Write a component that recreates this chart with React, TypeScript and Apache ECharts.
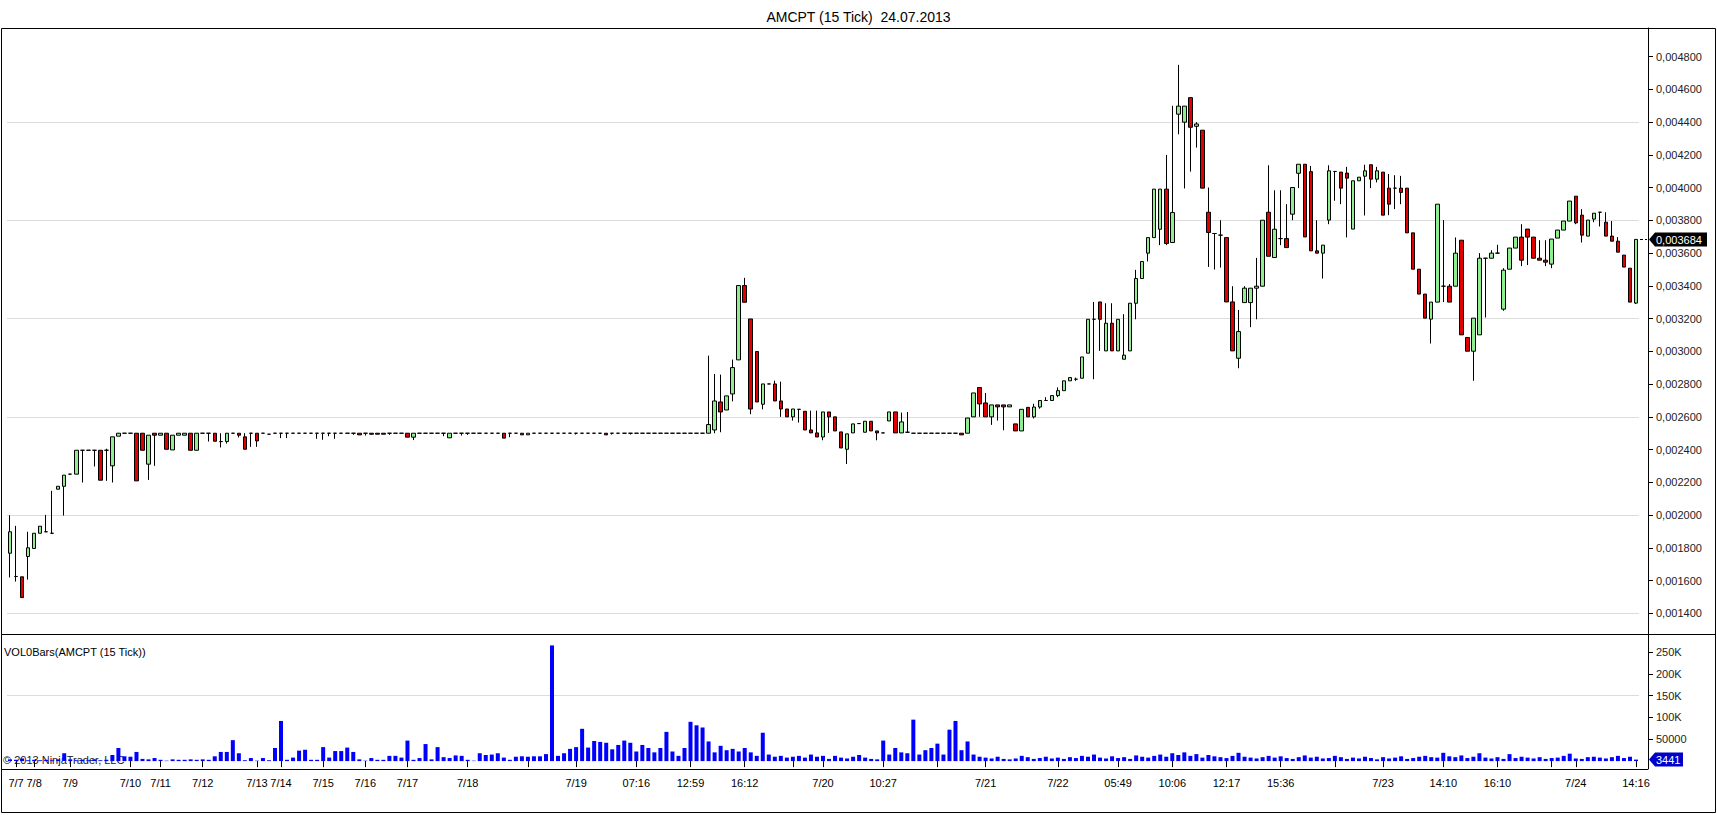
import React, { useEffect, useRef } from 'react';
import * as echarts from 'echarts';

const TITLE = 'AMCPT (15 Tick)  24.07.2013';
const VOL_TITLE = 'VOL0Bars(AMCPT (15 Tick))';
const COPYRIGHT = '\u00a9 2013 NinjaTrader, LLC';

// prices in millionths (value * 1e-6)
const PRICE_UNIT = 1e-6;

const opens = [
  1767, 1625, 1623, 1747, 1796, 1889, 1898, 1889, 2158, 2176,
  2250, 2250, 2396, 2396, 2396, 2396, 2396, 2301, 2482, 2500,
  2500, 2500, 2500, 2311, 2500, 2488, 2500, 2398, 2488, 2488,
  2500, 2396, 2500, 2500, 2500, 2449, 2449, 2500, 2500, 2478,
  2500, 2500, 2500, 2494, 2500, 2500, 2500, 2500, 2500, 2500,
  2500, 2500, 2500, 2500, 2500, 2500, 2500, 2500, 2500, 2500,
  2500, 2500, 2500, 2500, 2500, 2500, 2500, 2476, 2500, 2500,
  2500, 2500, 2500, 2472, 2500, 2500, 2500, 2500, 2500, 2500,
  2500, 2500, 2500, 2500, 2500, 2500, 2490, 2500, 2500, 2500,
  2500, 2500, 2500, 2500, 2500, 2500, 2500, 2500, 2500, 2500,
  2500, 2500, 2500, 2500, 2500, 2500, 2500, 2500, 2500, 2500,
  2500, 2500, 2500, 2500, 2500, 2500, 2500, 2520, 2691, 2642,
  2740, 2948, 3402, 3198, 2999, 2677, 2801, 2801, 2697, 2648,
  2600, 2646, 2634, 2520, 2502, 2477, 2630, 2600, 2508, 2402,
  2502, 2559, 2506, 2573, 2514, 2502, 2575, 2630, 2502, 2506,
  2500, 2500, 2500, 2500, 2500, 2500, 2500, 2500, 2500, 2500,
  2600, 2779, 2685, 2600, 2673, 2673, 2661, 2557, 2514, 2658,
  2600, 2660, 2700, 2700, 2730, 2760, 2820, 2830, 2836, 2989,
  3196, 3302, 3003, 3172, 3003, 2952, 3003, 3294, 3445, 3600,
  3695, 3746, 3991, 3665, 4449, 4400, 4550, 4375, 4351, 3850,
  3720, 3710, 3695, 3302, 2958, 3298, 3298, 3386, 3398, 3850,
  3573, 3689, 3689, 3838, 4088, 4143, 4098, 3614, 3600, 3802,
  4099, 4095, 4089, 3747, 4042, 4070, 4140, 4052, 4095, 3997,
  3997, 3997, 3997, 3724, 3502, 3350, 3197, 3301, 3398, 3398,
  3398, 3679, 3085, 3001, 3101, 3569, 3569, 3600, 3258, 3502,
  3631, 3698, 3747, 3698, 3569, 3557, 3533, 3692, 3741, 3796,
  3948, 3832, 3704, 3808, 3850, 3789, 3704, 3673, 3588, 3508, 3295,
];

const closes = [
  1898, 1625, 1496, 1800, 1889, 1932, 1898, 1889, 2176, 2244,
  2250, 2396, 2396, 2396, 2396, 2213, 2396, 2478, 2500, 2500,
  2500, 2209, 2396, 2488, 2488, 2500, 2402, 2488, 2500, 2500,
  2396, 2500, 2500, 2500, 2451, 2449, 2500, 2500, 2488, 2402,
  2500, 2453, 2500, 2494, 2500, 2500, 2500, 2500, 2500, 2500,
  2500, 2500, 2500, 2500, 2500, 2500, 2500, 2500, 2490, 2500,
  2494, 2494, 2494, 2500, 2500, 2500, 2476, 2500, 2500, 2500,
  2500, 2500, 2500, 2500, 2500, 2500, 2500, 2500, 2500, 2500,
  2500, 2500, 2470, 2500, 2500, 2490, 2500, 2500, 2500, 2500,
  2500, 2500, 2500, 2500, 2500, 2500, 2500, 2500, 2500, 2490,
  2500, 2500, 2500, 2500, 2500, 2500, 2500, 2500, 2500, 2500,
  2500, 2500, 2500, 2500, 2500, 2500, 2553, 2697, 2630, 2728,
  2901, 3402, 3300, 2648, 2691, 2801, 2801, 2697, 2648, 2600,
  2648, 2646, 2520, 2502, 2477, 2630, 2600, 2514, 2410, 2496,
  2557, 2559, 2573, 2514, 2502, 2502, 2630, 2502, 2569, 2506,
  2500, 2500, 2500, 2500, 2500, 2500, 2500, 2500, 2490, 2593,
  2746, 2679, 2600, 2673, 2661, 2661, 2673, 2514, 2646, 2600,
  2660, 2700, 2700, 2730, 2760, 2820, 2840, 2830, 2966, 3196,
  3196, 3196, 3172, 3003, 3196, 2977, 3294, 3445, 3549, 3695,
  3991, 3991, 3659, 3848, 4498, 4498, 4369, 4389, 3997, 3726,
  3720, 3710, 3302, 3003, 3121, 3386, 3386, 3398, 3801, 3581,
  3746, 3689, 3634, 4001, 4143, 3699, 3614, 3600, 3649, 4103,
  4099, 3997, 4058, 4042, 4064, 4103, 4052, 4103, 3832, 3899,
  3997, 3971, 3724, 3502, 3350, 3203, 3301, 3899, 3398, 3301,
  3600, 3101, 3001, 3203, 3569, 3569, 3600, 3600, 3496, 3631,
  3698, 3557, 3698, 3569, 3557, 3545, 3686, 3741, 3796, 3918,
  3785, 3710, 3802, 3844, 3850, 3704, 3673, 3606, 3515, 3301, 3684,
];

const lows = [
  1619, 1594, 1496, 1606, 1796, 1889, 1898, 1889, 2158, 1997,
  2250, 2250, 2199, 2396, 2297, 2213, 2209, 2199, 2482, 2500,
  2500, 2209, 2396, 2215, 2301, 2488, 2402, 2398, 2488, 2488,
  2396, 2396, 2500, 2449, 2451, 2413, 2437, 2500, 2474, 2402,
  2417, 2417, 2500, 2494, 2500, 2470, 2470, 2500, 2500, 2500,
  2500, 2466, 2460, 2482, 2466, 2500, 2500, 2490, 2490, 2486,
  2490, 2494, 2494, 2490, 2500, 2500, 2476, 2458, 2500, 2500,
  2500, 2500, 2482, 2472, 2500, 2486, 2490, 2500, 2500, 2500,
  2500, 2500, 2470, 2476, 2500, 2490, 2490, 2500, 2500, 2500,
  2500, 2500, 2500, 2500, 2492, 2500, 2500, 2500, 2500, 2490,
  2492, 2500, 2500, 2492, 2500, 2500, 2500, 2500, 2500, 2500,
  2500, 2500, 2500, 2500, 2500, 2500, 2500, 2500, 2506, 2642,
  2695, 2948, 3300, 2616, 2691, 2646, 2801, 2697, 2600, 2600,
  2577, 2565, 2520, 2502, 2477, 2457, 2502, 2514, 2410, 2312,
  2502, 2559, 2506, 2514, 2457, 2502, 2575, 2502, 2502, 2506,
  2500, 2500, 2500, 2500, 2500, 2500, 2500, 2500, 2490, 2500,
  2600, 2600, 2600, 2551, 2577, 2518, 2661, 2514, 2514, 2600,
  2590, 2650, 2700, 2700, 2720, 2760, 2820, 2820, 2836, 2989,
  2830, 3003, 3003, 3003, 3003, 2952, 3003, 3196, 3445, 3549,
  3695, 3649, 3649, 3665, 4326, 3995, 4098, 4245, 3997, 3516,
  3500, 3512, 3302, 3003, 2897, 3298, 3148, 3196, 3398, 3581,
  3573, 3649, 3634, 3801, 3997, 3699, 3614, 3600, 3445, 3777,
  3920, 3899, 3696, 3747, 4042, 3830, 3997, 4032, 3832, 3832,
  3869, 3899, 3724, 3502, 3350, 3203, 3048, 3301, 3301, 3301,
  3398, 3101, 3001, 2820, 3101, 3207, 3569, 3600, 3248, 3502,
  3631, 3521, 3527, 3569, 3557, 3521, 3508, 3692, 3741, 3796,
  3777, 3665, 3704, 3789, 3763, 3704, 3673, 3606, 3515, 3301, 3289,
];

const highs = [
  1999, 1934, 1623, 1898, 1889, 1932, 2001, 2148, 2176, 2244,
  2250, 2396, 2396, 2396, 2396, 2396, 2405, 2478, 2500, 2500,
  2500, 2500, 2500, 2488, 2500, 2500, 2500, 2488, 2500, 2500,
  2500, 2500, 2500, 2500, 2500, 2500, 2500, 2500, 2500, 2500,
  2500, 2500, 2500, 2494, 2500, 2500, 2500, 2500, 2500, 2500,
  2500, 2500, 2500, 2500, 2500, 2500, 2500, 2500, 2500, 2500,
  2500, 2500, 2500, 2500, 2500, 2500, 2500, 2500, 2500, 2500,
  2500, 2500, 2500, 2500, 2500, 2500, 2500, 2500, 2500, 2500,
  2500, 2500, 2500, 2500, 2500, 2500, 2500, 2500, 2500, 2500,
  2500, 2500, 2500, 2500, 2500, 2500, 2500, 2500, 2500, 2500,
  2500, 2500, 2500, 2500, 2500, 2500, 2500, 2500, 2500, 2500,
  2500, 2500, 2500, 2500, 2500, 2500, 2974, 2862, 2858, 2728,
  2950, 3402, 3449, 3198, 2999, 2801, 2801, 2821, 2815, 2648,
  2648, 2646, 2634, 2638, 2638, 2630, 2630, 2600, 2508, 2496,
  2557, 2559, 2573, 2573, 2514, 2502, 2630, 2630, 2626, 2630,
  2500, 2500, 2500, 2500, 2500, 2500, 2500, 2500, 2500, 2593,
  2746, 2779, 2746, 2673, 2673, 2673, 2673, 2557, 2646, 2658,
  2680, 2700, 2720, 2730, 2780, 2820, 2840, 2840, 2966, 3196,
  3302, 3302, 3294, 3294, 3196, 3227, 3294, 3498, 3549, 3695,
  3991, 3991, 4200, 4500, 4750, 4498, 4550, 4400, 4351, 4001,
  3720, 3801, 3695, 3398, 3253, 3398, 3386, 3571, 3801, 4137,
  3984, 3984, 3899, 4001, 4143, 4143, 4133, 3801, 3649, 4137,
  4099, 4095, 4127, 4042, 4064, 4140, 4140, 4127, 4095, 4083,
  4076, 4072, 3997, 3724, 3502, 3350, 3301, 3899, 3802, 3411,
  3696, 3679, 3085, 3203, 3600, 3569, 3618, 3651, 3508, 3631,
  3698, 3777, 3747, 3698, 3679, 3679, 3686, 3741, 3796, 3918,
  3948, 3869, 3802, 3844, 3850, 3850, 3796, 3698, 3588, 3508, 3684,
];

// volume in thousands
const volumesK = [
  4, 3, 6, 2, 3, 2, 3, 2, 4, 18,
  4, 2, 3, 2, 4, 2, 3, 14, 30, 11,
  10, 21, 5, 4, 7, 3, 1, 4, 3, 3,
  4, 3, 4, 3, 11, 21, 21, 48, 18, 2,
  7, 1, 7, 2, 30, 92, 3, 8, 24, 26,
  3, 3, 32, 8, 23, 23, 31, 21, 4, 1,
  7, 3, 3, 12, 12, 8, 47, 3, 7, 39,
  4, 32, 9, 7, 13, 12, 3, 1, 18, 14,
  15, 18, 8, 3, 10, 11, 10, 11, 11, 16,
  265, 12, 18, 28, 32, 74, 31, 46, 44, 42,
  27, 37, 47, 42, 22, 37, 30, 20, 30, 67,
  22, 12, 30, 90, 82, 77, 45, 20, 35, 25,
  28, 22, 30, 20, 12, 65, 15, 10, 12, 8,
  10, 12, 8, 15, 10, 12, 5, 12, 8, 6,
  10, 14, 8, 5, 4, 47, 15, 30, 20, 18,
  95, 15, 25, 30, 40, 15, 72, 92, 25, 45,
  15, 10, 8, 6, 10, 5, 4, 6, 12, 9,
  5, 7, 10, 6, 8, 5, 9, 7, 12, 10,
  15, 8, 6, 11, 7, 9, 5, 13, 10, 8,
  12, 15, 10, 18, 14, 20, 12, 16, 8, 14,
  11, 9, 7, 12, 19, 10, 8, 6, 9, 12,
  8, 11, 7, 5, 9, 13, 8, 10, 6, 7,
  12, 9, 5, 8, 6, 10, 7, 4, 9, 6,
  8, 11, 5, 7, 10, 12, 9, 8, 19, 11,
  9, 13, 7, 10, 18, 8, 6, 9, 5, 16,
  7, 10, 8, 6, 9, 5, 7, 8, 12, 17,
  6, 5, 9, 10, 8, 6, 9, 12, 7, 10, 3.441,
];

// x-axis tick positions (bar index) and their labels ('' = tick without label)
const tickIndex = [1, 4, 10, 20, 25, 32, 41, 45, 52, 59, 66, 76, 86, 94, 104, 113, 122, 130, 135, 145, 154, 162, 174, 184, 193, 202, 211, 220, 228, 238, 247, 256, 260, 270];
const tickText = ['7/7', '7/8', '7/9', '7/10', '7/11', '7/12', '7/13', '7/14', '7/15', '7/16', '7/17', '7/18', '', '7/19', '07:16', '12:59', '16:12', '', '7/20', '10:27', '', '7/21', '7/22', '05:49', '10:06', '12:17', '15:36', '', '7/23', '14:10', '16:10', '', '7/24', '14:16'];

const priceTicks = [0.0014, 0.0016, 0.0018, 0.002, 0.0022, 0.0024, 0.0026, 0.0028, 0.003, 0.0032, 0.0034, 0.0036, 0.0038, 0.004, 0.0042, 0.0044, 0.0046, 0.0048];
const priceGrid = [0.0014, 0.002, 0.0026, 0.0032, 0.0038, 0.0044];
const volTicks = [50000, 100000, 150000, 200000, 250000];
const volGrid = [150000];

const PRICE_MIN = 0.0012736;
const PRICE_MAX = 0.0049753;
const VOL_MIN = -18100;
const VOL_MAX = 291200;

const FONT = '"Liberation Sans", Arial, sans-serif';

export default function App() {
  const ref = useRef<HTMLDivElement>(null);

  useEffect(() => {
    const chart = echarts.init(ref.current!, null, { renderer: 'svg' });
    const n = opens.length;
    const cats = opens.map((_, i) => String(i));
    const candle = opens.map((o, i) => [
      o * PRICE_UNIT,
      closes[i] * PRICE_UNIT,
      lows[i] * PRICE_UNIT,
      highs[i] * PRICE_UNIT,
    ]);
    const vols = volumesK.map((v) => Math.round(v * 1000));
    const labelAt = new Map<number, string>(tickIndex.map((idx, k) => [idx, tickText[k]]));
    const lastClose = closes[n - 1] * PRICE_UNIT;
    const lastVol = vols[n - 1];
    const fmtPrice = (v: number) => v.toFixed(6).replace('.', ',');
    const fmtVol = (v: number) => (v >= 100000 ? `${Math.round(v / 1000)}K` : String(Math.round(v)));

    const gridLeft = 7;
    const gridRight = 78;
    const axisOffset = 9;
    const axisX = 1648;

    const baseGraphic: any[] = [
      { type: 'rect', silent: true, shape: { x: 1.5, y: 28.5, width: 1714, height: 784 }, style: { fill: 'none', stroke: '#000', lineWidth: 1 } },
      { type: 'line', silent: true, shape: { x1: 1, y1: 634.5, x2: 1715, y2: 634.5 }, style: { stroke: '#000', lineWidth: 1 } },
      { type: 'line', silent: true, shape: { x1: 1, y1: 769.5, x2: axisX, y2: 769.5 }, style: { stroke: '#000', lineWidth: 1 } },
      { type: 'text', silent: true, left: 4, top: 646, style: { text: VOL_TITLE, fontSize: 11, fontFamily: FONT, fill: '#000' } },
      { type: 'text', silent: true, left: 3, top: 754, style: { text: COPYRIGHT, fontSize: 11, fontFamily: FONT, fill: '#222' } },
    ];

    const option: any = {
      animation: false,
      backgroundColor: '#fff',
      title: {
        text: TITLE,
        left: 'center',
        top: 5,
        textStyle: { fontSize: 14, fontWeight: 'normal', color: '#000', fontFamily: FONT },
      },
      grid: [
        { left: gridLeft, right: gridRight, top: 28, height: 606 },
        { left: gridLeft, right: gridRight, top: 634, height: 135 },
      ],
      xAxis: [
        {
          type: 'category', gridIndex: 0, data: cats, boundaryGap: true,
          axisLine: { show: false }, axisTick: { show: false }, axisLabel: { show: false }, splitLine: { show: false },
        },
        {
          type: 'category', gridIndex: 1, data: cats, boundaryGap: true,
          axisLine: { show: false },
          axisTick: {
            show: true, alignWithLabel: true, length: 6,
            interval: (i: number) => labelAt.has(i),
            lineStyle: { color: '#000' },
          },
          axisLabel: {
            interval: (i: number) => !!labelAt.get(i),
            formatter: (_v: string, i: number) => labelAt.get(i) ?? '',
            fontSize: 11, color: '#000', margin: 8, fontFamily: FONT,
          },
          splitLine: { show: false },
        },
      ],
      yAxis: [
        {
          type: 'value', gridIndex: 0, position: 'right', offset: axisOffset,
          min: PRICE_MIN, max: PRICE_MAX,
          axisLine: { show: true, lineStyle: { color: '#000' } },
          axisTick: { show: true, length: 5, customValues: priceTicks, lineStyle: { color: '#000' } },
          axisLabel: { customValues: priceTicks, formatter: fmtPrice, fontSize: 11, color: '#222', margin: 8, fontFamily: FONT },
          splitLine: { show: false },
        },
        {
          type: 'value', gridIndex: 0, position: 'right',
          min: PRICE_MIN, max: PRICE_MAX,
          axisLine: { show: false },
          axisTick: { show: false, customValues: priceGrid },
          axisLabel: { show: false, customValues: priceGrid },
          splitLine: { show: true, lineStyle: { color: '#dcdcdc', width: 1 } },
        },
        {
          type: 'value', gridIndex: 1, position: 'right', offset: axisOffset,
          min: VOL_MIN, max: VOL_MAX,
          axisLine: { show: true, lineStyle: { color: '#000' } },
          axisTick: { show: true, length: 5, customValues: volTicks, lineStyle: { color: '#000' } },
          axisLabel: { customValues: volTicks, formatter: fmtVol, fontSize: 11, color: '#222', margin: 8, fontFamily: FONT },
          splitLine: { show: false },
        },
        {
          type: 'value', gridIndex: 1, position: 'right',
          min: VOL_MIN, max: VOL_MAX,
          axisLine: { show: false },
          axisTick: { show: false, customValues: volGrid },
          axisLabel: { show: false, customValues: volGrid },
          splitLine: { show: true, lineStyle: { color: '#dcdcdc', width: 1 } },
        },
      ],
      series: [
        {
          type: 'candlestick',
          xAxisIndex: 0, yAxisIndex: 0,
          data: candle,
          barWidth: 4,
          itemStyle: {
            color: '#90ee90', color0: '#e00000',
            borderColor: '#000', borderColor0: '#000', borderColorDoji: '#000', borderWidth: 1,
          },
        },
        {
          type: 'bar',
          xAxisIndex: 1, yAxisIndex: 2,
          data: vols,
          barWidth: 4,
          itemStyle: { color: '#0000ff' },
        },
      ],
      graphic: baseGraphic,
    };

    chart.setOption(option);

    // value tags on the right axes, placed through the axes' own scales
    const makeTag = (y: number, text: string, bg: string) => {
      const w = text.length * 6 + 4;
      const tip = axisX + 1;
      const x0 = tip + 6;
      return {
        type: 'group',
        silent: true,
        children: [
          {
            type: 'polygon',
            shape: { points: [[tip, y], [x0, y - 7], [x0 + w, y - 7], [x0 + w, y + 7], [x0, y + 7]] },
            style: { fill: bg },
          },
          {
            type: 'text',
            x: x0 + 1,
            y: y + 0.5,
            style: { text, fill: '#fff', fontSize: 11, fontFamily: FONT, verticalAlign: 'middle', align: 'left' },
          },
        ],
      };
    };
    const yPrice = chart.convertToPixel({ yAxisIndex: 0 }, lastClose) as number;
    const yVol = chart.convertToPixel({ yAxisIndex: 2 }, lastVol) as number;
    const xLast = chart.convertToPixel({ xAxisIndex: 0 }, n - 1) as number;
    chart.setOption({
      graphic: [
        ...baseGraphic,
        {
          type: 'line', silent: true,
          shape: { x1: xLast + 4, y1: Math.round(yPrice) + 0.5, x2: axisX - 1, y2: Math.round(yPrice) + 0.5 },
          style: { stroke: '#000', lineWidth: 1, lineDash: [3, 2] },
        },
        makeTag(yPrice, fmtPrice(lastClose), '#000'),
        makeTag(yVol, String(lastVol), '#0000cc'),
      ],
    });

    return () => chart.dispose();
  }, []);

  return (
    <div
      ref={ref}
      style={{ position: 'fixed', left: 0, top: 0, width: 1717, height: 815, background: '#fff' }}
    />
  );
}
